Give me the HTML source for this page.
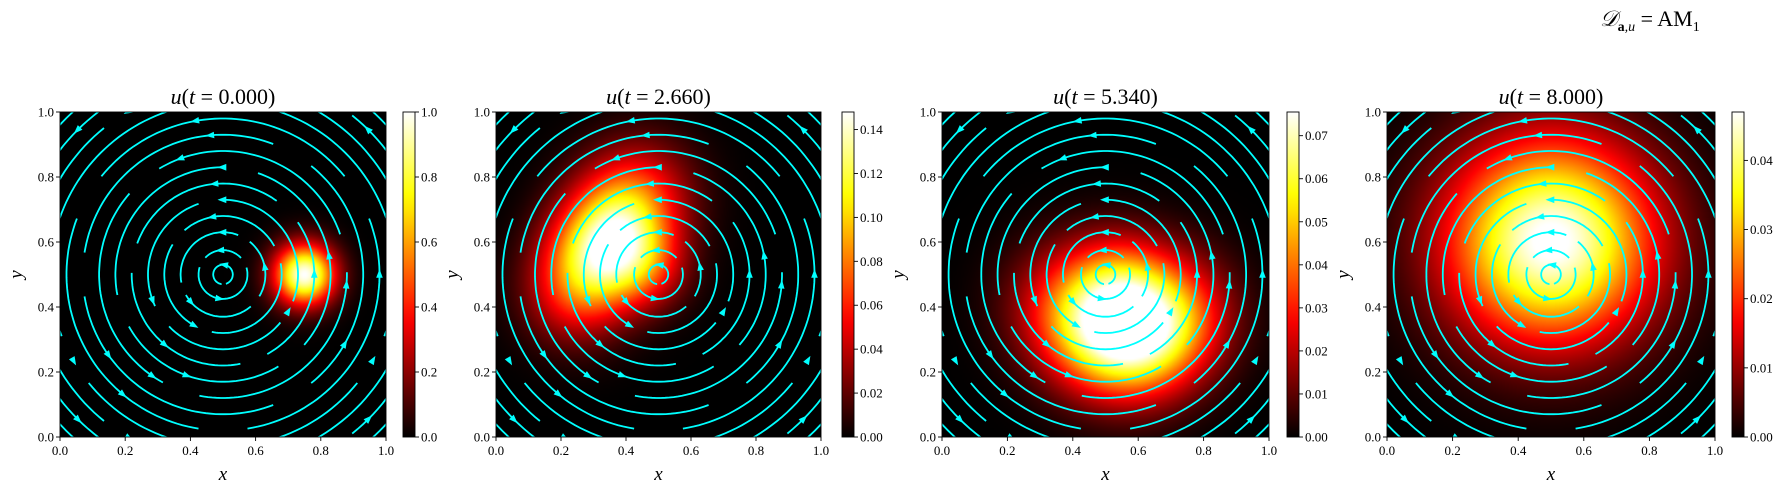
<!DOCTYPE html>
<html><head><meta charset="utf-8"><style>
body{margin:0;background:#fff;width:1775px;height:491px;overflow:hidden;font-family:"Liberation Serif",serif}
#root{position:relative;width:1775px;height:491px}
canvas{position:absolute;image-rendering:auto}
svg{position:absolute;left:0;top:0}
</style></head><body>
<div id="root">
<svg id="svg" width="1775" height="491"></svg>
</div>
<script>
// panel layout
const panelLeft=[60,496,942,1387];
const panelWidth=[326,325,327,328];
const cbarLeft=[403,842,1287,1732];
const axTop=112, axBottom=437;
// data
const titleTimes=["0.000","2.660","5.340","8.000"];
const vmax=[1.0,0.148,0.0755,0.047];
const cbarTicks=[[0,0.2,0.4,0.6,0.8,1.0],[0,0.02,0.04,0.06,0.08,0.10,0.12,0.14],[0,0.01,0.02,0.03,0.04,0.05,0.06,0.07],[0,0.01,0.02,0.03,0.04]];
const cbarDigits=[1,2,2,2];
const axisTicks=[0,0.2,0.4,0.6,0.8,1.0];
// heat blobs per panel: [x,y,amp,sigma]
const blobs0=[[0.75,0.5,1.0,0.065]];
const blobs1=[[0.44,0.76,0.045,0.12],[0.37,0.64,0.085,0.11],[0.3,0.54,0.07,0.11],[0.24,0.43,0.04,0.11],[0.46,0.52,0.04,0.09]];
const blobs2=[[0.38,0.42,0.02,0.13],[0.48,0.32,0.036,0.13],[0.6,0.3,0.042,0.13],[0.7,0.38,0.032,0.13],[0.54,0.48,0.022,0.11]];
const blobs3=[[0.5,0.64,0.031,0.22],[0.42,0.55,0.01,0.2],[0.58,0.55,0.01,0.2]];
const blobs=[blobs0,blobs1,blobs2,blobs3];
// streamline ring radii and gap angles (deg) — same flow for all panels
const ringRadii=[0.03,0.075,0.13,0.18,0.23,0.28,0.33,0.38,0.43,0.48,0.53,0.58,0.63,0.68];
const ringGaps=[[275],[30,150],[60,200,320],[20,140,250],[100,215,330],[45,170,290],[80,200,310],[10,130,250],[60,180,300],[30,150,270],[90,210,330],[0,120,240],[60,180,300],[30,150,270]];
const arrowAngles=[[80],[95,260],[90,220,10],[100,240],[90,200,330],[95,230,0],[90,250,10],[110,235,355],[95,215,330],[100,230,0],[80,210,330],[120,240,0],[45,135,225,315],[40,140,220,320]];

const NS="http://www.w3.org/2000/svg";
const svg=document.getElementById('svg');
function mk(tag,attrs,parent){const e=document.createElementNS(NS,tag);for(const k in attrs)e.setAttribute(k,attrs[k]);(parent||svg).appendChild(e);return e;}
function hot(t){t=Math.max(0,Math.min(1,t));let r=Math.min(1,t/0.365),g=Math.max(0,Math.min(1,(t-0.365)/0.375)),b=Math.max(0,Math.min(1,(t-0.746)/0.254));return [r*255,g*255,b*255];}
function txt(x,y,s,size,anchor,parent,italic){const t=mk('text',{x:x,y:y,'font-size':size,'text-anchor':anchor||'middle','font-family':'Liberation Serif, serif',fill:'#000'},parent);if(italic)t.setAttribute('font-style','italic');t.textContent=s;return t;}

const defs=mk('defs',{});
for(let p=0;p<4;p++){
  const L=panelLeft[p],W=panelWidth[p],H=axBottom-axTop;
  const sx=v=>L+v*W, sy=v=>axBottom-v*H;
  const g=mk('g',{});
  
  
  const c=document.createElement('canvas');
  const N=160;c.width=N;c.height=N;
  c.style.left=L+'px';c.style.top=axTop+'px';c.style.width=W+'px';c.style.height=H+'px';
  
  
  const ctx=c.getContext('2d');const img=ctx.createImageData(N,N);
  for(let j=0;j<N;j++)for(let i=0;i<N;i++){
    const x=(i+0.5)/N,y=1-(j+0.5)/N;let v=0;
    for(const b of blobs[p]){const d2=(x-b[0])**2+(y-b[1])**2;v+=b[2]*Math.exp(-d2/(2*b[3]*b[3]));}
    const col=hot(v/vmax[p]);const k=(j*N+i)*4;
    img.data[k]=col[0];img.data[k+1]=col[1];img.data[k+2]=col[2];img.data[k+3]=255;
  }
  ctx.putImageData(img,0,0);
  document.getElementById('root').insertBefore(c,svg);
  const cp=mk('clipPath',{id:'clip'+p},defs);mk('rect',{x:L,y:axTop,width:W,height:H},cp);
  const sg=mk('g',{'clip-path':'url(#clip'+p+')'},g);
  
  
  const rx=W,ry=H;
  ringRadii.forEach((r,ri)=>{
    const gaps=ringGaps[ri].slice().sort((a,b)=>a-b);const gw=ri<2?25:18;
    for(let k=0;k<gaps.length;k++){
      const a0=gaps[k]+gw/2, a1=(k+1<gaps.length?gaps[k+1]:gaps[0]+360)-gw/2;
      let d='';
      for(let a=a0;a<=a1+0.01;a+=2){const rad=a*Math.PI/180;const X=sx(0.5+r*Math.cos(rad)),Y=sy(0.5+r*Math.sin(rad));d+=(d?'L':'M')+X.toFixed(1)+' '+Y.toFixed(1);}
      const pth=mk('path',{d:d,fill:'none',stroke:'#00ffff','stroke-width':1.8},sg);
      
      
    }
    arrowAngles[ri].forEach(a=>{
      const rad=a*Math.PI/180;const X=sx(0.5+r*Math.cos(rad)),Y=sy(0.5+r*Math.sin(rad));
      const dx=-Math.sin(rad)*rx,dy=-Math.cos(rad)*ry;const n=Math.hypot(dx,dy);const ux=dx/n,uy=dy/n;
      const s=5.5;
      const pts=[[X+ux*s,Y+uy*s],[X-ux*s*0.6-uy*s*0.6,Y-uy*s*0.6+ux*s*0.6],[X-ux*s*0.6+uy*s*0.6,Y-uy*s*0.6-ux*s*0.6]];
      const ar=mk('polygon',{points:pts.map(q=>q[0].toFixed(1)+','+q[1].toFixed(1)).join(' '),fill:'#00ffff'},sg);
      
      
    });
  });
  mk('rect',{x:L,y:axTop,width:W,height:H,fill:'none',stroke:'#000','stroke-width':0.9},g);
  axisTicks.forEach(v=>{
    mk('line',{x1:sx(v),x2:sx(v),y1:axBottom,y2:axBottom+4,stroke:'#000','stroke-width':0.9},g);
    txt(sx(v),axBottom+18,v.toFixed(1),13,'middle',g);
    mk('line',{x1:L,x2:L-4,y1:sy(v),y2:sy(v),stroke:'#000','stroke-width':0.9},g);
    txt(L-6,sy(v)+4.5,v.toFixed(1),13,'end',g);
  });
  const xl=txt(L+W/2,axBottom+43,'x',19,'middle',g,true);
  const yl=txt(0,0,'y',19,'middle',g,true);yl.setAttribute('transform','translate('+(L-38)+','+((axTop+axBottom)/2)+') rotate(-90)');
  const tt=mk('text',{x:L+W/2,y:axTop-8,'font-size':22,'text-anchor':'middle','font-family':'Liberation Serif, serif'},g);
  
  
  tt.innerHTML='<tspan font-style="italic">u</tspan>(<tspan font-style="italic">t</tspan> = '+titleTimes[p]+')';
  const cb=mk('g',{},g);
  
  
  const gid='grad'+p;const lg=mk('linearGradient',{id:gid,x1:0,y1:1,x2:0,y2:0},defs);
  for(let s=0;s<=20;s++){const col=hot(s/20);mk('stop',{offset:(s/20),'stop-color':'rgb('+col.map(Math.round).join(',')+')'},lg);}
  const CL=cbarLeft[p],CW=12;
  mk('rect',{x:CL,y:axTop,width:CW,height:H,fill:'url(#'+gid+')',stroke:'#000','stroke-width':0.9},cb);
  cbarTicks[p].forEach(v=>{const Y=axBottom-v/vmax[p]*H;
    mk('line',{x1:CL+CW,x2:CL+CW+4,y1:Y,y2:Y,stroke:'#000','stroke-width':0.9},cb);
    txt(CL+CW+6,Y+4.5,v.toFixed(cbarDigits[p]),13,'start',cb);});
}
const sup=mk('text',{x:1600,y:26,'font-size':22,'font-family':'Liberation Serif, serif'});


sup.innerHTML='<tspan font-style="italic">𝒟</tspan><tspan font-size="14" dy="5" font-weight="bold">a</tspan><tspan font-size="14" font-style="italic">,u</tspan><tspan dy="-5"> = AM</tspan><tspan font-size="14" dy="5">1</tspan>';
</script>
</body></html>
